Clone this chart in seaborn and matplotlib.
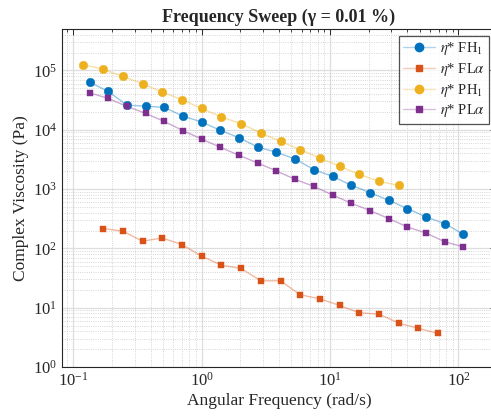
import numpy as np
import pandas as pd
import matplotlib
matplotlib.use("Agg")
import matplotlib.pyplot as plt
from matplotlib.lines import Line2D
import seaborn as sns

# ---- data ----
freq_H = [0.1338, 0.1871, 0.2616, 0.3658, 0.5115, 0.7151, 1.0, 1.398, 1.955, 2.734,
          3.823, 5.346, 7.475, 10.45, 14.61, 20.43, 28.57, 39.95, 55.86, 78.11, 109.2]
freq_L = [0.1199, 0.1708, 0.2432, 0.3464, 0.4932, 0.7024, 1.0, 1.424, 2.028, 2.887,
          4.111, 5.854, 8.337, 11.87, 16.90, 24.07, 34.28, 48.81, 69.5]

FH1 = [63500, 44300, 26000, 25000, 23800, 17000, 13500, 9770, 7360, 5110,
       4170, 3210, 2130, 1640, 1160, 873, 647, 470, 339, 262, 173]
FLa = [216, 195, 132, 150, 116, 73.9, 52.1, 45.8, 28.4, 28.4,
       16.5, 14.1, 10.9, 8.2, 7.8, 5.5, 4.48, 3.69]
PH1 = [126000, 104000, 79300, 59700, 43200, 32100, 22900, 16400, 12700, 8810,
       6380, 4620, 3340, 2420, 1770, 1350, 1150]
PLa = [42100, 33800, 24800, 18900, 13800, 9660, 6980, 5060, 3710, 2750,
       2020, 1460, 1110, 796, 577, 435, 319, 230, 182, 129, 106]

labels = [r'$\eta$* FH$_1$', r'$\eta$* FL$\alpha$', r'$\eta$* PH$_1$', r'$\eta$* PL$\alpha$']
colors = ['#0072BD', '#D95319', '#EDB120', '#7E2F8E']
markers = ['o', 's', 'o', 's']
msizes = [38, 20, 38, 20]

series = [(freq_H, FH1), (freq_L[1:], FLa), (freq_L[:len(PH1)], PH1), (freq_H, PLa)]

frames = []
for lab, (x, y) in zip(labels, series):
    frames.append(pd.DataFrame({'freq': x, 'eta': y, 'series': lab}))
df = pd.concat(frames, ignore_index=True)

sns.set_style("white")
plt.rcParams['font.family'] = ['Liberation Serif', 'DejaVu Serif']
plt.rcParams['mathtext.fontset'] = 'stix'

fig = plt.figure(figsize=(4.91, 4.18), dpi=100)
ax = fig.add_axes([62/491, 51/418, 434/491, 338/418])

pal = dict(zip(labels, colors))
sns.lineplot(data=df, x='freq', y='eta', hue='series', palette=pal, ax=ax,
             legend=False, linewidth=1.0, alpha=0.4, sort=False, estimator=None)
for lab, c, m, s in zip(labels, colors, markers, msizes):
    sub = df[df['series'] == lab]
    sns.scatterplot(data=sub, x='freq', y='eta', color=c, marker=m, s=s,
                    edgecolor=c, linewidth=0.3, ax=ax, legend=False, zorder=3)

ax.set_xscale('log')
ax.set_yscale('log')
ax.set_xlim(0.0817, 196)
ax.set_ylim(1, 5e5)

ax.grid(True, which='major', color='#dedede', linewidth=0.9, linestyle='-')
ax.grid(True, which='minor', color='#c8c8c8', linewidth=0.6, linestyle=':')
ax.set_axisbelow(True)

ax.tick_params(which='both', direction='in', top=True, right=True, colors='#262626',
               labelsize=12)
ax.tick_params(which='major', length=4, width=0.7)
ax.tick_params(which='minor', length=2.5, width=0.6)
ax.yaxis.set_major_locator(matplotlib.ticker.LogLocator(base=10, numticks=10))
ax.yaxis.set_minor_locator(matplotlib.ticker.LogLocator(base=10, subs=np.arange(2, 10), numticks=12))
ax.yaxis.set_minor_formatter(matplotlib.ticker.NullFormatter())
ax.xaxis.set_minor_formatter(matplotlib.ticker.NullFormatter())
for sp in ax.spines.values():
    sp.set_color('#262626')
    sp.set_linewidth(0.8)

ax.set_xlabel('Angular Frequency (rad/s)', fontsize=12.5, color='#262626', labelpad=2)
ax.set_ylabel('Complex Viscosity (Pa)', fontsize=12.5, color='#262626', labelpad=3)
ax.set_title('Frequency Sweep (γ = 0.01 %)', fontsize=13, fontweight='bold', pad=5)

handles = []
for c, m in zip(colors, markers):
    h = Line2D([0], [0], color=matplotlib.colors.to_rgba(c, 0.3), marker=m,
               markersize=(6 if m == 'o' else 4.5), markerfacecolor=c,
               markeredgecolor=c, linewidth=1.0)
    handles.append(h)
leg = ax.legend(handles, labels, loc='upper right', bbox_to_anchor=(489/491, 1 - 36/418),
                bbox_transform=fig.transFigure, fontsize=10.5, frameon=True, fancybox=False,
                borderpad=0.3, handlelength=2.2, handletextpad=0.3, labelspacing=0.25,
                borderaxespad=0)
leg.get_frame().set_edgecolor('#262626')
leg.get_frame().set_linewidth(0.9)

fig.savefig('out.png', dpi=100)
